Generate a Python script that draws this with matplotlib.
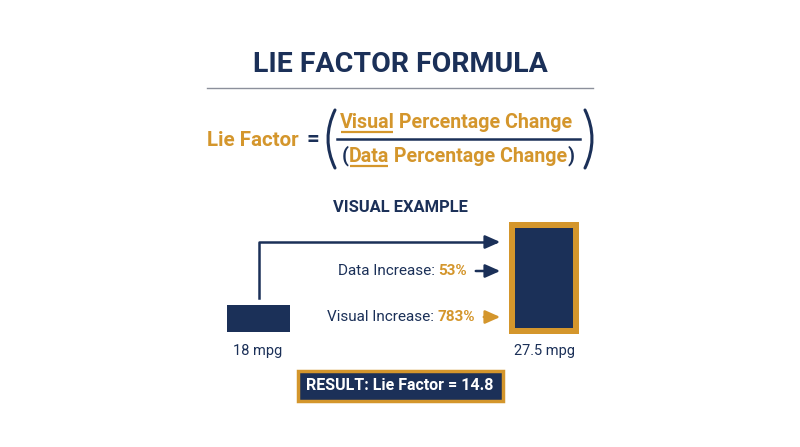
import matplotlib.pyplot as plt
from matplotlib.patches import Rectangle, PathPatch
from matplotlib.path import Path

plt.rcParams['font.family'] = ['Roboto', 'DejaVu Sans']

# Datos
title = 'LIE FACTOR FORMULA'
lhs_label = 'Lie Factor'
numerator_parts = ['Visual', ' Percentage Change']
denominator_parts = ['(', 'Data', ' Percentage Change', ')']
section_title = 'VISUAL EXAMPLE'
mpg = [18, 27.5]
increase_names = ['Data Increase: ', 'Visual Increase: ']
increase_pct = [53, 783]
lie_factor = 14.8

# Colores
NAVY = '#1b3058'
GOLD = '#d4962c'
GREY = '#8c909b'

fig = plt.figure(figsize=(8, 4.47), dpi=100)
ax = fig.add_axes([0, 0, 1, 1])
ax.set_xlim(0, 800)
ax.set_ylim(447, 0)
ax.axis('off')

fig.canvas.draw()
renderer = fig.canvas.get_renderer()
inv = ax.transData.inverted()


def width_of(t):
    bb = t.get_window_extent(renderer)
    (x0, _), (x1, _) = inv.transform([[bb.x0, bb.y0], [bb.x1, bb.y1]])
    return x1 - x0


def parts_line(parts, x_center, y, size):
    # parts: lista de (texto, color, peso, subrayado)
    tmp = [ax.text(0, y, p[0], fontsize=size, fontweight=p[2]) for p in parts]
    widths = [width_of(t) for t in tmp]
    for t in tmp:
        t.remove()
    x = x_center - sum(widths) / 2
    for p, w in zip(parts, widths):
        ax.text(x, y, p[0], fontsize=size, fontweight=p[2], color=p[1],
                ha='left', va='center')
        if p[3]:
            ax.plot([x + 1, x + w - 1], [y + 9.5, y + 9.5], color=p[1], lw=1.6,
                    solid_capstyle='butt')
        x += w


# Titulo
ax.text(400, 65, title, fontsize=20.5, fontweight='bold', color=NAVY,
        ha='center', va='center')
ax.plot([207, 593], [88, 88], color=GREY, lw=1)

# Formula
ax.text(207, 140, lhs_label, fontsize=14.8, fontweight='bold', color=GOLD,
        ha='left', va='center')
ax.text(313, 139, '=', fontsize=16, fontweight='bold', color=NAVY,
        ha='center', va='center')

for x_end, x_ctrl in [(335, 321), (585, 599)]:
    paren = Path([(x_end, 110), (x_ctrl, 139), (x_end, 168)],
                 [Path.MOVETO, Path.CURVE3, Path.CURVE3])
    ax.add_patch(PathPatch(paren, fill=False, edgecolor=NAVY, lw=2.2,
                           capstyle='round'))

ax.plot([337, 580], [139, 139], color=NAVY, lw=1.8)

parts_line([(numerator_parts[0], GOLD, 'bold', True),
            (numerator_parts[1], GOLD, 'bold', False)], 456, 122, 14.1)
parts_line([(denominator_parts[0], NAVY, 'bold', False),
            (denominator_parts[1], GOLD, 'bold', True),
            (denominator_parts[2], GOLD, 'bold', False),
            (denominator_parts[3], NAVY, 'bold', False)], 458, 156, 14.1)

# Ejemplo visual
ax.text(400, 208, section_title, fontsize=11.9, fontweight='bold', color=NAVY,
        ha='center', va='center')

ax.add_patch(Rectangle((227, 305), 63, 27, facecolor=NAVY, edgecolor='none'))
ax.add_patch(Rectangle((509, 222), 70, 112, facecolor=GOLD, edgecolor='none'))
ax.add_patch(Rectangle((515, 228), 58, 100, facecolor=NAVY, edgecolor='none'))

ax.text(258, 351, f'{mpg[0]:g} mpg', fontsize=10.5, color=NAVY,
        ha='center', va='center')
ax.text(544, 351, f'{mpg[1]:g} mpg', fontsize=10.5, color=NAVY,
        ha='center', va='center')

# Flecha de conexion
ax.plot([259, 259, 495], [298, 242, 242], color=NAVY, lw=1.8)
ax.annotate('', xy=(503, 242), xytext=(490, 242),
            arrowprops=dict(arrowstyle='-|>,head_length=0.9,head_width=0.4',
                            color=NAVY, lw=1.8))

rows_y = [271, 317]
ends_x = [467, 475]
arrow_colors = [NAVY, GOLD]
for name, pct, y, xe, ac in zip(increase_names, increase_pct, rows_y, ends_x,
                                arrow_colors):
    v = ax.text(xe, y, f'{pct}%', fontsize=11, fontweight='bold', color=GOLD,
                ha='right', va='center')
    wv = width_of(v)
    ax.text(xe - wv, y, name, fontsize=11, color=NAVY, ha='right',
            va='center')
    ax.annotate('', xy=(503, y), xytext=(xe + 6, y),
                arrowprops=dict(arrowstyle='-|>,head_length=0.9,head_width=0.4',
                                color=ac, lw=1.8))

# Resultado
ax.add_patch(Rectangle((298, 371), 205, 30, facecolor=NAVY, edgecolor=GOLD,
                       lw=2.5))
ax.text(400, 386, f'RESULT: Lie Factor = {lie_factor}', fontsize=11.5,
        fontweight='bold', color='white', ha='center', va='center')

fig.savefig('out.png', dpi=100, facecolor='white')
